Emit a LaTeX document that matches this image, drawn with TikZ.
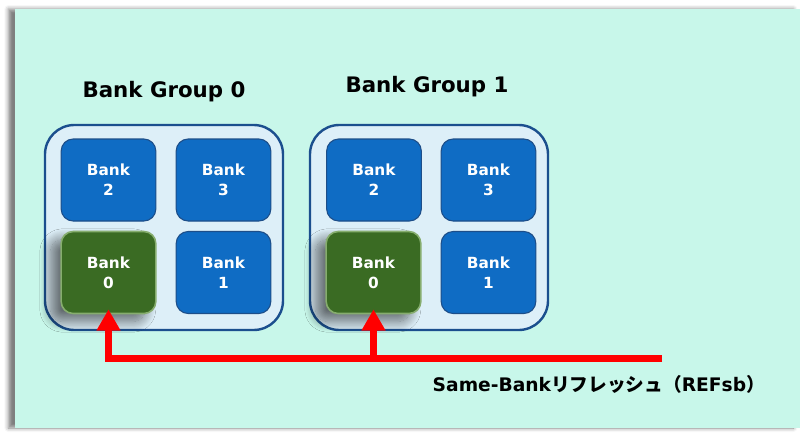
\documentclass[tikz,border=0pt]{standalone}
\usepackage{fontspec}
\setmainfont{DejaVu Sans}
\newfontfamily\jpfont{Noto Sans CJK JP}
\usepackage{xcolor}
\usetikzlibrary{arrows.meta,shadows.blur}
\definecolor{mint}{HTML}{C8F7EA}
\definecolor{groupfill}{HTML}{DDEFF8}
\definecolor{groupline}{HTML}{1B4F8E}
\definecolor{bankblue}{HTML}{0F6CC4}
\definecolor{bankline}{HTML}{1D4E89}
\definecolor{bankgreen}{HTML}{3A6B23}
\definecolor{greenedge}{HTML}{86AD6E}
\begin{document}
\begin{tikzpicture}[x=0.75pt,y=-0.75pt,
bank/.style={draw=bankline,fill=bankblue,line width=0.8pt,rounded corners=9pt,minimum width=71pt,minimum height=61.5pt,text=white,align=center,font=\bfseries\fontsize{11.5}{15}\selectfont},
hit/.style={bank,draw=greenedge,fill=bankgreen,line width=1.2pt,blur shadow={shadow xshift=-8pt,shadow yshift=-6pt,shadow blur radius=8pt,shadow blur steps=16,shadow opacity=55}},
group/.style={draw=groupline,fill=groupfill,line width=1.8pt,rounded corners=22pt,minimum width=178.5pt,minimum height=153.75pt},
title/.style={font=\bfseries\fontsize{16}{19}\selectfont},
refline/.style={red,line width=5.25pt}]
\useasboundingbox(0,0)rectangle(800,436);
\path[fill=mint,blur shadow={shadow xshift=-5pt,shadow yshift=0pt,shadow blur radius=3pt,shadow opacity=50}](15,9)rectangle(800,428);
% bank groups
\node (g0) [group] at(164,227.5){};
\node (g1) [group] at(429,227.5){};
\node (t0) [title] at(164,92){Bank Group 0};
\node (t1) [title] at(427,87){Bank Group 1};
\node (g0b2) [bank] at(108.5,180){Bank\\2};
\node (g0b3) [bank] at(223.5,180){Bank\\3};
\node (g0b0) [hit] at(108.5,272.5){Bank\\0};
\node (g0b1) [bank] at(223.5,272.5){Bank\\1};
\node (g1b2) [bank] at(374,180){Bank\\2};
\node (g1b3) [bank] at(488.5,180){Bank\\3};
\node (g1b0) [hit] at(373.5,272.5){Bank\\0};
\node (g1b1) [bank] at(488.5,272.5){Bank\\1};
% same-bank refresh
\coordinate (src) at(662,358);
\draw[refline,-{Triangle[width=17pt,length=16pt]}](src)-|([yshift=3.75pt]g0b0.south);
\draw[refline,-{Triangle[width=17pt,length=16pt]}](g1b0.south|-src)--([yshift=3.75pt]g1b0.south);
\node (cap) [anchor=west,font=\bfseries\fontsize{14}{17}\selectfont] at(428,384){Same-Bank{\jpfont リフレッシュ（}REFsb{\jpfont ）}};
\end{tikzpicture}
\end{document}
